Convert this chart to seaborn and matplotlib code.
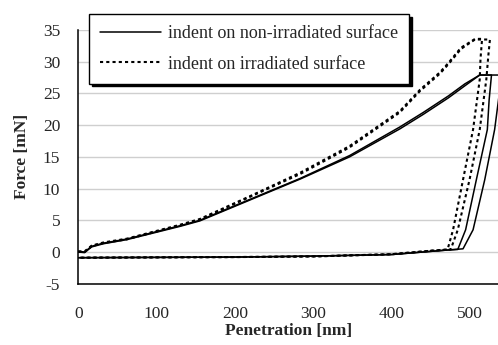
import matplotlib
matplotlib.use("Agg")
import matplotlib.pyplot as plt
from matplotlib.lines import Line2D
import seaborn as sns
import pandas as pd

# ---------------- data ----------------
series_labels = ["indent on non-irradiated surface", "indent on irradiated surface"]

# non-irradiated, indent 1
ni1_load_x = [0, 8, 17, 32, 62, 130, 155, 219, 283, 346, 410, 440, 472, 493, 512, 527]
ni1_load_y = [0.1, 0.0, 0.9, 1.4, 2.05, 4.15, 5.0, 8.3, 11.6, 15.2, 19.7, 22.0, 24.6, 26.5, 27.9, 27.9]
ni1_unload_x = [524, 521.7, 507.7, 494, 484, 470, 440, 400, 300, 200, 100, 0]
ni1_unload_y = [24, 19.3, 11.4, 3.5, 0.4, 0.3, 0.0, -0.4, -0.65, -0.8, -0.85, -0.9]

# non-irradiated, indent 2
ni2_load_x = [0, 8, 17, 32, 62, 130, 155, 219, 283, 346, 410, 440, 472, 493, 512, 540]
ni2_load_y = [0.0, -0.1, 0.8, 1.3, 1.95, 4.05, 4.9, 8.2, 11.5, 15.0, 19.4, 21.7, 24.3, 26.2, 27.9, 27.9]
ni2_unload_x = [537, 531, 518.4, 503.5, 490.7, 475, 440, 400, 300, 200, 100, 0]
ni2_unload_y = [25, 19.3, 11.4, 3.5, 0.5, 0.35, 0.0, -0.4, -0.65, -0.8, -0.85, -0.9]

# irradiated, indent 1
ir1_load_x = [0, 8, 17, 32, 62, 130, 155, 219, 283, 346, 410, 436, 461, 472, 488, 501, 506, 515]
ir1_load_y = [0.1, 0.1, 1.0, 1.5, 2.1, 4.3, 5.2, 8.8, 12.5, 16.7, 22.2, 25.6, 28.3, 29.8, 32.2, 33.2, 33.6, 33.6]
ir1_unload_x = [513, 512, 503.5, 490.7, 478, 471, 450, 400, 300, 200, 100, 0]
ir1_unload_y = [30.5, 27.2, 19.3, 11.4, 3.5, 0.4, 0.2, -0.35, -0.7, -0.8, -0.85, -0.9]

# irradiated, indent 2
ir2_load_x = [0, 8, 17, 32, 62, 130, 155, 219, 283, 346, 410, 436, 461, 472, 488, 501, 506, 525]
ir2_load_y = [0.0, 0.0, 0.9, 1.4, 2.0, 4.2, 5.1, 8.7, 12.3, 16.5, 22.0, 25.4, 28.1, 29.6, 32.0, 33.1, 33.5, 33.5]
ir2_unload_x = [523, 520.4, 512, 499, 484, 475, 450, 400, 300, 200, 100, 0]
ir2_unload_y = [31, 27.2, 19.3, 11.4, 3.5, 0.4, 0.2, -0.35, -0.7, -0.8, -0.85, -0.9]

y_ticks = [-5, 0, 5, 10, 15, 20, 25, 30, 35]
x_ticks = [0, 100, 200, 300, 400, 500]

# ---------------- styling ----------------
sns.set_style("white")
plt.rcParams["font.family"] = ["Liberation Serif", "DejaVu Serif"]
FS = 12.5
LEG_FS = 13

fig = plt.figure(figsize=(4.98, 3.45), dpi=100)
ax = fig.add_axes([78.3 / 498, 1 - 283.7 / 345, (498 - 78.3) / 498, (283.7 - 30) / 345])

solid_kw = dict(color="black", linewidth=1.1, linestyle="-")
dot_kw = dict(color="black", linewidth=1.5, dashes=(1.5, 1.5))

traces = [
    (ni1_load_x + ni1_unload_x, ni1_load_y + ni1_unload_y, "solid"),
    (ni2_load_x + ni2_unload_x, ni2_load_y + ni2_unload_y, "solid"),
    (ir1_load_x + ir1_unload_x, ir1_load_y + ir1_unload_y, "dot"),
    (ir2_load_x + ir2_unload_x, ir2_load_y + ir2_unload_y, "dot"),
]
for xs, ys, kind in traces:
    df = pd.DataFrame({"x": xs, "y": ys})
    kw = solid_kw if kind == "solid" else dot_kw
    sns.lineplot(data=df, x="x", y="y", sort=False, estimator=None, ax=ax, **kw)

ax.set_xlim(0, 535.3)
ax.set_ylim(-5, 35)
ax.set_xticks(x_ticks)
ax.set_yticks(y_ticks)
ax.set_xticklabels([str(v) for v in x_ticks], fontsize=FS)
ax.set_yticklabels([str(v) for v in y_ticks], fontsize=FS)
ax.yaxis.grid(True, color="#cfcfcf", linewidth=1.0)
ax.xaxis.grid(False)
ax.set_axisbelow(True)

for s in ["top", "right"]:
    ax.spines[s].set_visible(False)
for s in ["left", "bottom"]:
    ax.spines[s].set_color("black")
    ax.spines[s].set_linewidth(1.1)

ax.tick_params(axis="x", direction="out", length=6, width=1.0, color="black", pad=10)
ax.tick_params(axis="y", direction="out", length=6, width=1.0, color="black", pad=7)

ax.set_xlabel("Penetration [nm]", fontsize=FS, fontweight="bold", labelpad=1)
ax.set_ylabel("Force [mN]", fontsize=FS, fontweight="bold", labelpad=9)

handles = [
    Line2D([], [], **solid_kw),
    Line2D([], [], **dot_kw),
]
leg = fig.legend(
    handles, series_labels,
    loc="upper left", bbox_to_anchor=(89 / 498, 1 - 14.3 / 345),
    bbox_transform=fig.transFigure, borderaxespad=0,
    fontsize=LEG_FS, frameon=True, fancybox=False, framealpha=1,
    edgecolor="black", facecolor="white",
    shadow={"color": "black", "alpha": 1},
    handlelength=3.4, handletextpad=0.4, borderpad=0.6, labelspacing=0.75,
)
leg.get_frame().set_linewidth(1.0)

fig.savefig("out.png", dpi=100)
